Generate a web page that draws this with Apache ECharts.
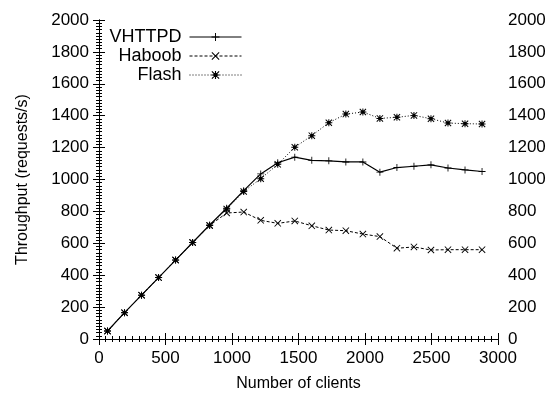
<!DOCTYPE html>
<html>
<head>
<meta charset="utf-8">
<script src="https://cdn.jsdelivr.net/npm/echarts@6/dist/echarts.min.js"></script>
<style>
  html, body { margin: 0; padding: 0; background: #fff; }
  #chart { width: 555px; height: 397px; }
</style>
</head>
<body>
<div id="chart"></div>
<script>
// 数据
const clients = [64, 192, 320, 448, 576, 704, 832, 960, 1088, 1216, 1344, 1472, 1600,
    1728, 1856, 1984, 2112, 2240, 2368, 2496, 2624, 2752, 2880];
const vhttpd = [50, 165, 275, 385, 495, 605, 715, 820, 930, 1035, 1105, 1140, 1120,
    1117, 1110, 1110, 1046, 1075, 1083, 1092, 1072, 1060, 1050];
const haboob = [50, 165, 275, 385, 495, 605, 712, 790, 796, 744, 725, 740, 710,
    683, 679, 658, 642, 569, 577, 558, 560, 560, 560];
const flash = [50, 165, 275, 385, 495, 605, 712, 815, 925, 1005, 1095, 1202, 1275,
    1356, 1410, 1423, 1383, 1390, 1402, 1381, 1354, 1350, 1348];
const seriesNames = ['VHTTPD', 'Haboob', 'Flash'];

const FONT = 'Liberation Sans, Arial, Helvetica, sans-serif';
const PLUS = 'path://M4.4,0h1.2v10h-1.2z M0,4.4h10v1.2h-10z';
const CROSS = 'path://M0,0.9L0.9,0L10,9.1L9.1,10Z M9.1,0L10,0.9L0.9,10L0,9.1Z';
const STAR = 'path://M4.3,0h1.4v10h-1.4z M0,4.3h10v1.4h-10z M0,1L1,0L10,9L9,10Z M9,0L10,1L1,10L0,9Z M2.5,2.5h5v5h-5z';

function pairs(ys) {
    return clients.map(function (x, i) { return [x, ys[i]]; });
}

function plain(v) { return String(v); }

function makeLegend(name, top) {
    return {
        data: [name],
        top: top,
        right: 313,
        orient: 'vertical',
        align: 'right',
        padding: 0,
        itemWidth: 52,
        itemHeight: 10,
        itemGap: 0,
        lineStyle: { width: 1 },
        textStyle: { fontFamily: FONT, fontSize: 18, color: '#000', padding: [0, 3, 0, 0] }
    };
}

const xBase = {
    type: 'value', min: 0, max: 3000, interval: 500,
    axisLine: { show: true, lineStyle: { color: '#000', width: 1 } },
    axisTick: { show: true, inside: true, length: 6, lineStyle: { color: '#000' } },
    minorTick: { show: true, splitNumber: 10, length: 3, lineStyle: { color: '#000' } },
    splitLine: { show: false }
};
const yBase = {
    type: 'value', min: 0, max: 2000, interval: 200,
    axisLine: { show: true, lineStyle: { color: '#000', width: 1 } },
    axisTick: { show: true, inside: true, length: 6, lineStyle: { color: '#000' } },
    minorTick: { show: true, splitNumber: 10, length: 3, lineStyle: { color: '#000' } },
    splitLine: { show: false },
    axisLabel: { fontFamily: FONT, fontSize: 17, color: '#000', margin: 10, formatter: plain }
};

const option = {
    animation: false,
    backgroundColor: '#fff',
    grid: { left: 99, right: 57, top: 20, bottom: 56 },
    legend: [
        makeLegend('VHTTPD', 28),
        makeLegend('Haboob', 47),
        makeLegend('Flash', 66)
    ],
    xAxis: [
        Object.assign({}, xBase, {
            position: 'bottom',
            name: 'Number of clients',
            nameLocation: 'middle',
            nameGap: 37,
            nameTextStyle: { fontFamily: FONT, fontSize: 16, color: '#000' },
            axisLabel: { fontFamily: FONT, fontSize: 17, color: '#000', margin: 11, formatter: plain }
        }),
        Object.assign({}, xBase, {
            position: 'top',
            axisLabel: { show: false }
        })
    ],
    yAxis: [
        Object.assign({}, yBase, {
            position: 'left',
            name: 'Throughput (requests/s)',
            nameLocation: 'middle',
            nameGap: 68,
            nameTextStyle: { fontFamily: FONT, fontSize: 16, color: '#000' }
        }),
        Object.assign({}, yBase, {
            position: 'right'
        })
    ],
    series: [
        {
            name: seriesNames[2], type: 'line', data: pairs(flash),
            symbol: STAR, symbolSize: 7,
            lineStyle: { color: '#000', width: 1, type: [1, 2] },
            itemStyle: { color: '#000' }
        },
        {
            name: seriesNames[1], type: 'line', data: pairs(haboob),
            symbol: CROSS, symbolSize: 7,
            lineStyle: { color: '#000', width: 1, type: [3, 2] },
            itemStyle: { color: '#000' }
        },
        {
            name: seriesNames[0], type: 'line', data: pairs(vhttpd),
            symbol: PLUS, symbolSize: 7,
            lineStyle: { color: '#000', width: 1.2, type: 'solid' },
            itemStyle: { color: '#000' }
        }
    ]
};

const chart = echarts.init(document.getElementById('chart'));
chart.setOption(option);
window.addEventListener('resize', function () { chart.resize(); });
</script>
</body>
</html>
